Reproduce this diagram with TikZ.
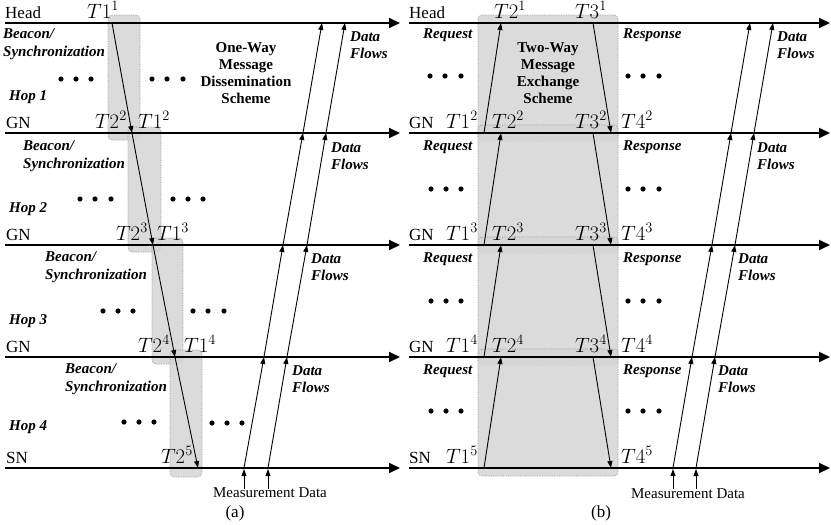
\documentclass[tikz,border=0pt]{standalone}
\usepackage{fontspec}
\setmainfont{Liberation Serif}
\usetikzlibrary{arrows.meta}
\begin{document}
\begin{tikzpicture}[x=1pt,y=-1pt,
  timeline/.style={line width=2pt,-{Triangle[length=11pt,width=10pt]}},
  msg/.style={line width=0.9pt,-{Triangle[length=7pt,width=5pt]}},
  shadebox/.style={draw=black!40,densely dotted,line width=0.7pt,fill=black!16.5,fill opacity=0.85,rounded corners=4pt},
  lbl/.style={font=\fontsize{15}{17}\selectfont,inner sep=0pt},
  caplbl/.style={font=\fontsize{17}{19}\selectfont,inner sep=0pt},
  linename/.style={font=\fontsize{17}{19}\selectfont,inner sep=0pt},
  tlab/.style={font=\fontsize{20}{22}\selectfont,inner sep=0pt},
  bitext/.style={font=\fontsize{15}{17.5}\selectfont\bfseries\itshape,inner sep=0pt,align=left},
  btext/.style={font=\fontsize{15}{17}\selectfont\bfseries,inner sep=0pt,align=center},
  dotmark/.style={fill=black},
]
\useasboundingbox (0,0) rectangle (831,525);

% ---------- shaded boxes ----------
\path[shadebox] (108,15) rectangle (140,140);
\path[shadebox] (128,127) rectangle (161,252);
\path[shadebox] (152,238) rectangle (183,364);
\path[shadebox] (170,350) rectangle (202,477);
\foreach \a/\b in {23/133,133/245,245/357,357/468}
  \path[shadebox] (478,\a-8) rectangle (618,\b+8);

% ---------- timelines ----------
\foreach \i/\y in {0/23,1/133,2/245,3/357,4/468} {
  \coordinate (la\i) at (5,\y);   \coordinate (lb\i) at (400,\y);
  \coordinate (ra\i) at (409,\y); \coordinate (rb\i) at (830,\y);
}
\foreach \i in {0,...,4} {
  \draw[timeline] (la\i) -- (lb\i);
  \draw[timeline] (ra\i) -- (rb\i);
}

% ---------- left message arrows ----------
\foreach \i/\x/\y in {0/112/23,1/132/133,2/153/245,3/175/357,4/198/468}
  \coordinate (m\i) at (\x,\y);
\foreach \i/\j in {0/1,1/2,2/3,3/4}
  \draw[msg] (m\i) -- (m\j);

% ---------- right message arrows ----------
\foreach \i/\y in {0/23,1/133,2/245,3/357,4/468} {
  \coordinate (up\i) at (501,\y); \coordinate (lo\i) at (484,\y);
  \coordinate (dn\i) at (593,\y); \coordinate (de\i) at (611,\y);
}
\foreach \i/\j in {0/1,1/2,2/3,3/4} {
  \draw[msg] (lo\j) -- (up\i);
  \draw[msg] (dn\i) -- (de\j);
}

% ---------- data flows ----------
\foreach \i/\y/\xa/\xb/\xc/\xd in {0/23/322/345/750/773,1/133/303/326/731/754,2/245/283/307/712/735,3/357/264/287/692/715,4/468/244/268/673/696} {
  \coordinate (fa\i) at (\xa,\y); \coordinate (fb\i) at (\xb,\y);
  \coordinate (ga\i) at (\xc,\y); \coordinate (gb\i) at (\xd,\y);
}
\foreach \i/\j in {0/1,1/2,2/3,3/4} {
  \draw[msg] (fa\j) -- (fa\i);
  \draw[msg] (fb\j) -- (fb\i);
  \draw[msg] (ga\j) -- (ga\i);
  \draw[msg] (gb\j) -- (gb\i);
}
\coordinate (mda) at (244,489); \coordinate (mdb) at (268,489);
\coordinate (mdc) at (673,489); \coordinate (mdd) at (696,489);
\draw[msg,shorten >=1pt] (mda) -- (fa4);
\draw[msg,shorten >=1pt] (mdb) -- (fb4);
\draw[msg,shorten >=1pt] (mdc) -- (ga4);
\draw[msg,shorten >=1pt] (mdd) -- (gb4);

% ---------- line names ----------
\node[linename,anchor=base west] (headL) at (5,18) {Head};
\node[linename,anchor=base west] (gnL1) at (6,128) {GN};
\node[linename,anchor=base west] (gnL2) at (6,240) {GN};
\node[linename,anchor=base west] (gnL3) at (6,352) {GN};
\node[linename,anchor=base west] (snL) at (6,463) {SN};
\node[linename,anchor=base west] (headR) at (409,18) {Head};
\node[linename,anchor=base west] (gnR1) at (409,128) {GN};
\node[linename,anchor=base west] (gnR2) at (409,240) {GN};
\node[linename,anchor=base west] (gnR3) at (409,352) {GN};
\node[linename,anchor=base west] (snR) at (409,463) {SN};

% ---------- T labels left ----------
\node[tlab,anchor=base west] (t11) at (87,18) {$T1^1$};
\node[tlab,anchor=base east] (t22) at (127,128) {$T2^2$};
\node[tlab,anchor=base west] (t12) at (138,128) {$T1^2$};
\node[tlab,anchor=base east] (t23) at (148,240) {$T2^3$};
\node[tlab,anchor=base west] (t13) at (157,240) {$T1^3$};
\node[tlab,anchor=base east] (t24) at (170,352) {$T2^4$};
\node[tlab,anchor=base west] (t14) at (184,352) {$T1^4$};
\node[tlab,anchor=base east] (t25) at (193,463) {$T2^5$};

% ---------- T labels right ----------
\node[tlab,anchor=base west] (r21) at (494,18) {$T2^1$};
\node[tlab,anchor=base east] (r31) at (607,18) {$T3^1$};
\foreach \k/\y in {2/128,3/240,4/352} {
  \node[tlab,anchor=base east] (r1\k) at (478,\y) {$T1^\k$};
  \node[tlab,anchor=base west] (r2\k) at (492,\y) {$T2^\k$};
  \node[tlab,anchor=base east] (r3\k) at (607,\y) {$T3^\k$};
  \node[tlab,anchor=base west] (r4\k) at (621,\y) {$T4^\k$};
}
\node[tlab,anchor=base east] (r15) at (478,463) {$T1^5$};
\node[tlab,anchor=base west] (r45) at (621,463) {$T4^5$};

% ---------- left texts ----------
\node[bitext,anchor=west] (bs1) at (3,44) {Beacon/\\Synchronization};
\node[bitext,anchor=west] (bs2) at (23,156) {Beacon/\\Synchronization};
\node[bitext,anchor=west] (bs3) at (45,267) {Beacon/\\Synchronization};
\node[bitext,anchor=west] (bs4) at (65,379) {Beacon/\\Synchronization};
\node[bitext,anchor=west] (hop1) at (9,97) {Hop 1};
\node[bitext,anchor=west] (hop2) at (9,209) {Hop 2};
\node[bitext,anchor=west] (hop3) at (9,321) {Hop 3};
\node[bitext,anchor=west] (hop4) at (9,427) {Hop 4};
\node[btext] (oneway) at (246,73) {One-Way\\Message\\Dissemination\\Scheme};
\node[bitext,anchor=west] (dfL1) at (350,45) {Data\\Flows};
\node[bitext,anchor=west] (dfL2) at (331,156) {Data\\Flows};
\node[bitext,anchor=west] (dfL3) at (311,267) {Data\\Flows};
\node[bitext,anchor=west] (dfL4) at (292,379) {Data\\Flows};
\node[lbl] (measL) at (270,493) {Measurement Data};
\node[caplbl] (capa) at (235,513) {(a)};

% ---------- right texts ----------
\node[btext] (twoway) at (548,73) {Two-Way\\Message\\Exchange\\Scheme};
\foreach \k/\y in {1/35,2/147,3/259,4/371} {
  \node[bitext,anchor=west] (req\k) at (423,\y) {Request};
  \node[bitext,anchor=west] (res\k) at (623,\y) {Response};
}
\node[bitext,anchor=west] (dfR1) at (777,45) {Data\\Flows};
\node[bitext,anchor=west] (dfR2) at (757,156) {Data\\Flows};
\node[bitext,anchor=west] (dfR3) at (738,267) {Data\\Flows};
\node[bitext,anchor=west] (dfR4) at (718,379) {Data\\Flows};
\node[lbl] (measR) at (688,494) {Measurement Data};
\node[caplbl] (capb) at (601,513) {(b)};

% ---------- dots ----------
\foreach \x/\y in {61/79,76/79,91/79,152/79,167/79,183/79,
                   80/199,95/199,111/199,173/199,188/199,203/199,
                   103/311,118/311,133/311,193/311,208/311,224/311,
                   124/422,139/422,154/422,212/423,227/423,242/423,
                   430/76,445/76,461/76,628/76,643/76,659/76,
                   431/189,446/189,461/189,628/189,643/189,659/189,
                   431/301,446/301,461/301,628/301,643/301,659/301,
                   431/411,446/411,461/411,628/411,643/411,659/411}
  \fill[dotmark] (\x,\y) circle (2.6);
\end{tikzpicture}
\end{document}
